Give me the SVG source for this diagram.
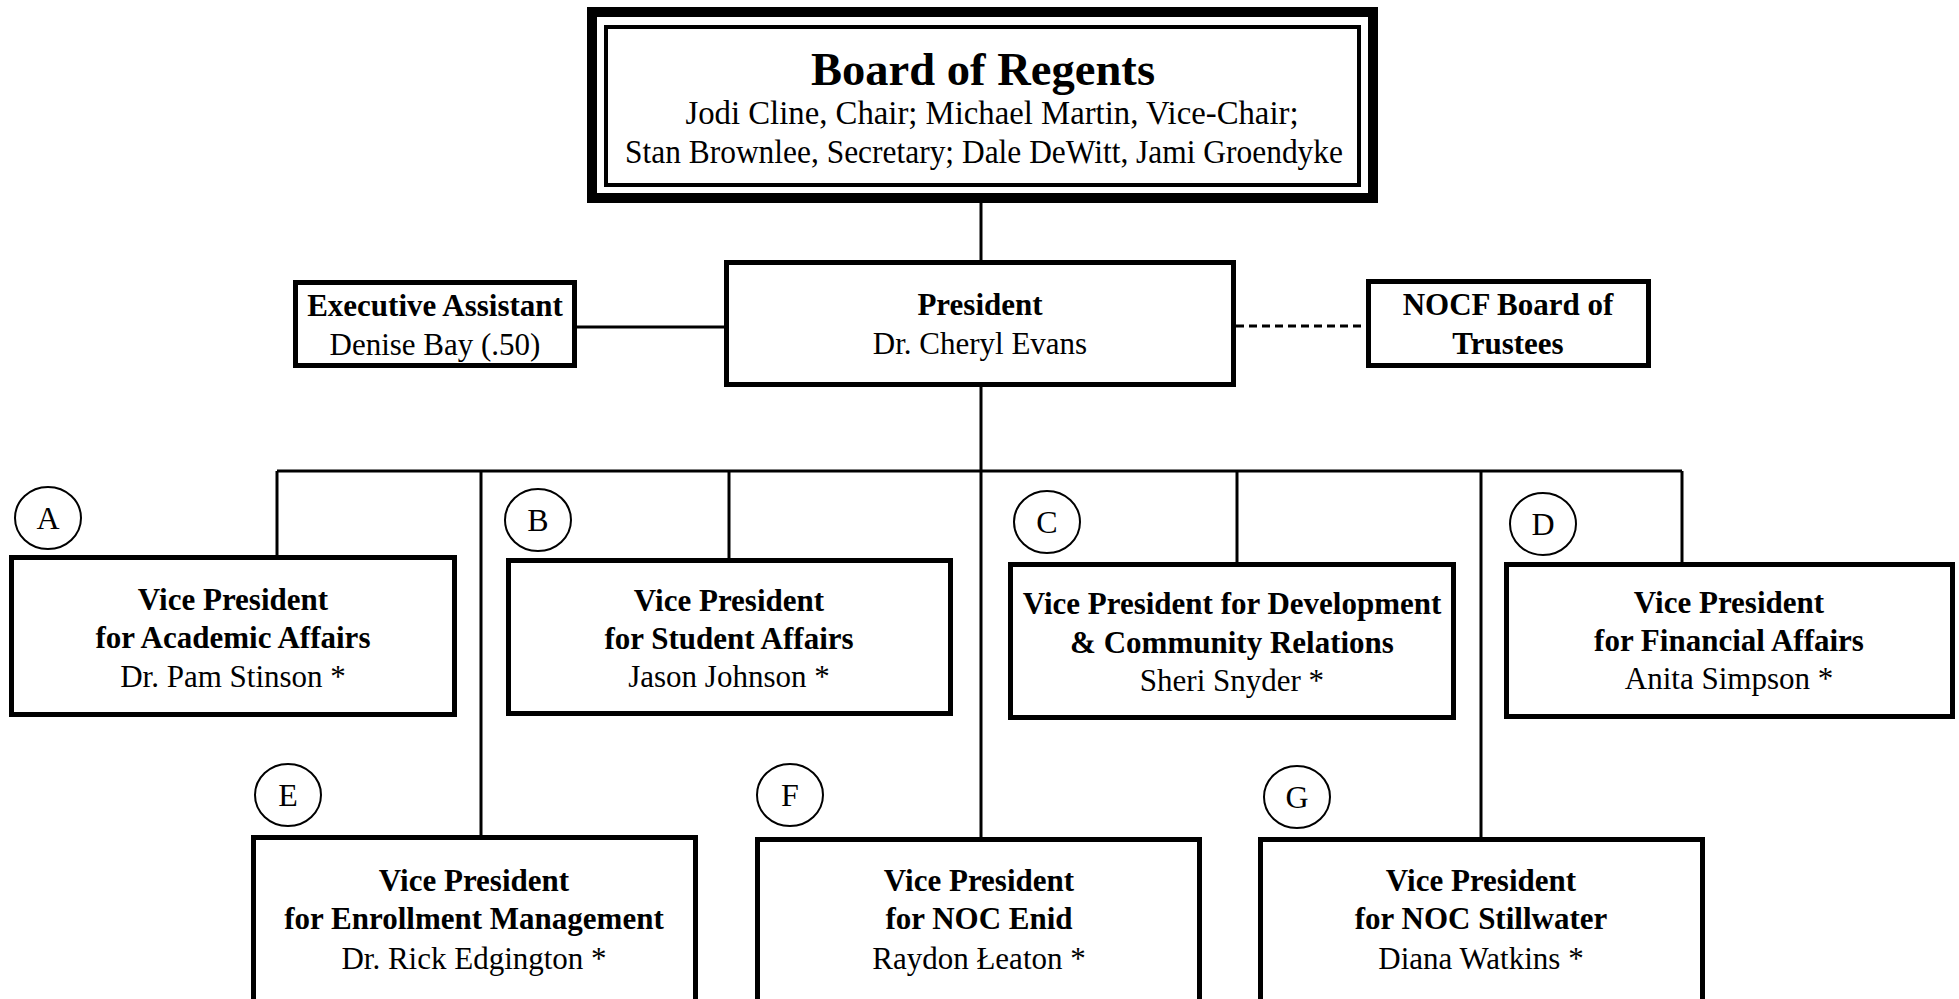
<svg xmlns="http://www.w3.org/2000/svg" width="1959" height="999" viewBox="0 0 1959 999">
<style>
.box{fill:#fff;stroke:#000;stroke-width:5}
.ln{stroke:#000;stroke-width:3;fill:none}
.dash{stroke:#000;stroke-width:3;fill:none;stroke-dasharray:8 5}
.t{font-family:"Liberation Serif","Times New Roman",serif;font-size:31px;text-anchor:middle;fill:#000}
.b{font-weight:bold}
.circ{fill:#fff;stroke:#000;stroke-width:2}
.lt{font-family:"Liberation Serif","Times New Roman",serif;font-size:32px;text-anchor:middle;fill:#000}
</style>
<rect width="1959" height="999" fill="#fff"/>
<g id="connectors">
<line class="ln" x1="981" y1="203" x2="981" y2="261"/>
<line class="ln" x1="981" y1="386" x2="981" y2="838"/>
<line class="ln" x1="277" y1="471" x2="1682" y2="471"/>
<line class="ln" x1="277" y1="471" x2="277" y2="556"/>
<line class="ln" x1="481" y1="471" x2="481" y2="836"/>
<line class="ln" x1="729" y1="471" x2="729" y2="559"/>
<line class="ln" x1="1237" y1="471" x2="1237" y2="563"/>
<line class="ln" x1="1481" y1="471" x2="1481" y2="838"/>
<line class="ln" x1="1682" y1="471" x2="1682" y2="563"/>
<line class="ln" x1="576" y1="327" x2="725" y2="327"/>
<line class="dash" x1="1236" y1="326" x2="1366" y2="326"/>
</g>
<g id="board">
<rect x="592" y="12" width="781" height="186" fill="#fff" stroke="#000" stroke-width="10"/>
<rect x="606" y="27" width="753" height="158" fill="none" stroke="#000" stroke-width="4"/>
<text class="t b" x="983" y="85" style="font-size:46px" textLength="344" lengthAdjust="spacingAndGlyphs">Board of Regents</text>
<text class="t" x="992" y="124" style="font-size:33px" textLength="613" lengthAdjust="spacingAndGlyphs">Jodi Cline, Chair; Michael Martin, Vice-Chair;</text>
<text class="t" x="984" y="163" style="font-size:33px" textLength="718" lengthAdjust="spacingAndGlyphs">Stan Brownlee, Secretary; Dale DeWitt, Jami Groendyke</text>
</g>
<g id="president">
<rect class="box" x="726.5" y="262.5" width="507" height="122"/>
<text class="t b" x="980" y="315">President</text>
<text class="t" x="980" y="354">Dr. Cheryl Evans</text>
</g>
<g id="exec-assistant">
<rect class="box" x="295.5" y="282.5" width="279" height="83"/>
<text class="t b" x="435" y="316">Executive Assistant</text>
<text class="t" x="435" y="355">Denise Bay (.50)</text>
</g>
<g id="nocf">
<rect class="box" x="1368.5" y="281.5" width="280" height="84"/>
<text class="t b" x="1508" y="315">NOCF Board of</text>
<text class="t b" x="1508" y="354">Trustees</text>
</g>
<g id="vp-a">
<ellipse class="circ" cx="48" cy="518" rx="33" ry="31"/>
<text class="lt" x="48" y="529">A</text>
<rect class="box" x="11.5" y="557.5" width="443" height="157"/>
<text class="t b" x="233" y="610">Vice President</text>
<text class="t b" x="233" y="648">for Academic Affairs</text>
<text class="t" x="233" y="687">Dr. Pam Stinson *</text>
</g>
<g id="vp-b">
<ellipse class="circ" cx="538" cy="520" rx="33" ry="31"/>
<text class="lt" x="538" y="531">B</text>
<rect class="box" x="508.5" y="560.5" width="442" height="153"/>
<text class="t b" x="729" y="611">Vice President</text>
<text class="t b" x="729" y="649">for Student Affairs</text>
<text class="t" x="729" y="687">Jason Johnson *</text>
</g>
<g id="vp-c">
<ellipse class="circ" cx="1047" cy="522" rx="33" ry="31"/>
<text class="lt" x="1047" y="533">C</text>
<rect class="box" x="1010.5" y="564.5" width="443" height="153"/>
<text class="t b" x="1232" y="614">Vice President for Development</text>
<text class="t b" x="1232" y="653">&amp; Community Relations</text>
<text class="t" x="1232" y="691">Sheri Snyder *</text>
</g>
<g id="vp-d">
<ellipse class="circ" cx="1543" cy="524" rx="33" ry="31"/>
<text class="lt" x="1543" y="535">D</text>
<rect class="box" x="1506.5" y="564.5" width="446" height="152"/>
<text class="t b" x="1729" y="613">Vice President</text>
<text class="t b" x="1729" y="651">for Financial Affairs</text>
<text class="t" x="1729" y="689">Anita Simpson *</text>
</g>
<g id="vp-e">
<ellipse class="circ" cx="288" cy="795" rx="33" ry="31"/>
<text class="lt" x="288" y="806">E</text>
<rect class="box" x="253.5" y="837.5" width="442" height="170"/>
<text class="t b" x="474" y="891">Vice President</text>
<text class="t b" x="474" y="929">for Enrollment Management</text>
<text class="t" x="474" y="969">Dr. Rick Edgington *</text>
</g>
<g id="vp-f">
<ellipse class="circ" cx="790" cy="795" rx="33" ry="31"/>
<text class="lt" x="790" y="806">F</text>
<rect class="box" x="757.5" y="839.5" width="442" height="170"/>
<text class="t b" x="979" y="891">Vice President</text>
<text class="t b" x="979" y="929">for NOC Enid</text>
<text class="t" x="979" y="969">Raydon Łeaton *</text>
</g>
<g id="vp-g">
<ellipse class="circ" cx="1297" cy="797" rx="33" ry="31"/>
<text class="lt" x="1297" y="808">G</text>
<rect class="box" x="1260.5" y="839.5" width="442" height="170"/>
<text class="t b" x="1481" y="891">Vice President</text>
<text class="t b" x="1481" y="929">for NOC Stillwater</text>
<text class="t" x="1481" y="969">Diana Watkins *</text>
</g>
</svg>
